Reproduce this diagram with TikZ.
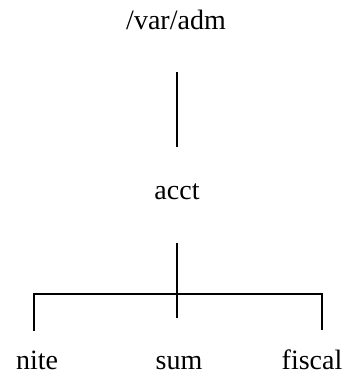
\documentclass[tikz,border=0pt]{standalone}
\usepackage{fontspec}
\setmainfont{Liberation Serif}
\usepackage{tikz}

\begin{document}
\begin{tikzpicture}[
    x=1pt, y=-1pt,
    dir/.style={inner sep=0pt, anchor=base, font=\fontsize{28}{33}\selectfont},
    link/.style={line width=1.2pt}
]
\useasboundingbox (0,0) rectangle (358,379);
\node[dir] (adm) at (176,30) {/var/adm};
\node[dir] (acct) at (177,199) {acct};
\node[dir] (nite) at (37,369) {nite};
\node[dir] (sum) at (179,369) {sum};
\node[dir] (fiscal) at (312,369) {fiscal};
\coordinate (admlow) at (177,72);
\coordinate (accttop) at (177,147);
\coordinate (acctlow) at (177,243);
\coordinate (mid) at (177,318);
\coordinate (left) at (34,331);
\coordinate (right) at (322,330);
\draw[link] (admlow) -- (accttop);
\draw[link] (acctlow) -- (mid);
\draw[link] (left) |- (177,294) -| (right);
\end{tikzpicture}
\end{document}
